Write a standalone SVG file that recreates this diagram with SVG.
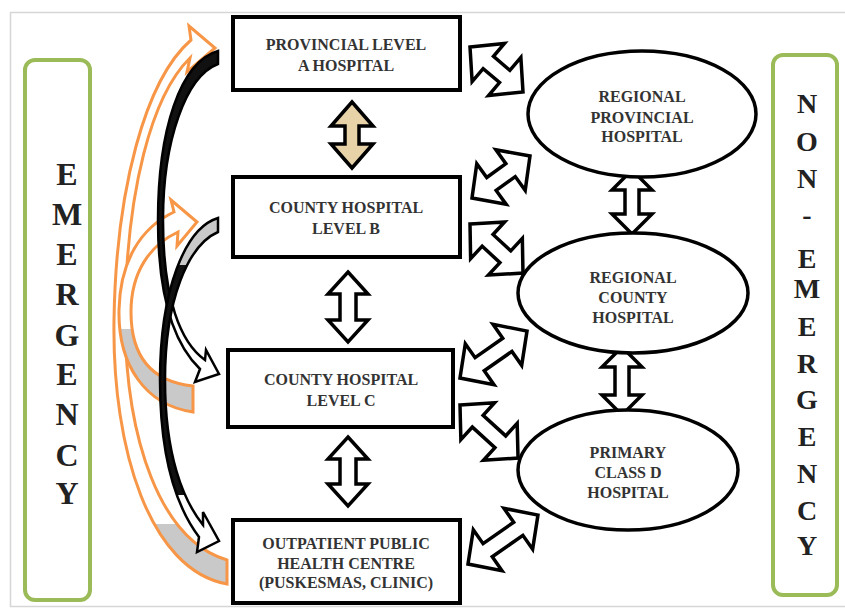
<svg xmlns="http://www.w3.org/2000/svg" width="845" height="609" viewBox="0 0 845 609">
<style>
.box{fill:#fff;stroke:#000;stroke-width:4}
.ell{fill:#fff;stroke:#000;stroke-width:3.5}
.lbl{font-family:"Liberation Serif","Times New Roman",serif;font-weight:bold;font-size:16px;fill:#333;text-anchor:middle}
.big{font-family:"Liberation Serif","Times New Roman",serif;font-weight:bold;fill:#222;text-anchor:middle}
.side{fill:#fff;stroke:#9BBB59;stroke-width:4}
.da{fill:#fff;stroke:#000;stroke-width:3.5;stroke-linejoin:miter}
.org{stroke:#F79646;stroke-width:3;stroke-linejoin:miter}
.blk{stroke:#000;stroke-width:2.5;stroke-linejoin:miter}
</style>
<defs>
<linearGradient id="gO1" gradientUnits="userSpaceOnUse" x1="0" y1="0" x2="0" y2="609">
<stop offset="0" stop-color="#fff"/><stop offset="0.86" stop-color="#fff"/><stop offset="0.86" stop-color="#C9C9C9"/><stop offset="1" stop-color="#C9C9C9"/>
</linearGradient>
<linearGradient id="gO2" gradientUnits="userSpaceOnUse" x1="0" y1="0" x2="0" y2="609">
<stop offset="0" stop-color="#fff"/><stop offset="0.54" stop-color="#fff"/><stop offset="0.54" stop-color="#C9C9C9"/><stop offset="1" stop-color="#C9C9C9"/>
</linearGradient>
<linearGradient id="gB1" gradientUnits="userSpaceOnUse" x1="0" y1="0" x2="0" y2="609">
<stop offset="0" stop-color="#111"/><stop offset="0.5" stop-color="#111"/><stop offset="0.5" stop-color="#fff"/><stop offset="1" stop-color="#fff"/>
</linearGradient>
<linearGradient id="gB2" gradientUnits="userSpaceOnUse" x1="0" y1="0" x2="0" y2="609">
<stop offset="0" stop-color="#C9C9C9"/><stop offset="0.435" stop-color="#C9C9C9"/><stop offset="0.435" stop-color="#111"/><stop offset="0.813" stop-color="#111"/><stop offset="0.813" stop-color="#fff"/><stop offset="1" stop-color="#fff"/>
</linearGradient>
</defs>
<rect x="0" y="0" width="845" height="609" fill="#fff"/>
<rect x="10.5" y="12.5" width="840" height="594" fill="#fff" stroke="#d6d6d6" stroke-width="1.5"/>

<g id="emergency">
<rect class="side" x="25" y="60" width="65" height="540" rx="10"/>
<g class="big" font-size="32">
<text x="67" y="185">E</text><text x="67" y="225">M</text><text x="67" y="265">E</text><text x="67" y="305">R</text><text x="67" y="346">G</text><text x="67" y="385">E</text><text x="67" y="425">N</text><text x="67" y="466">C</text><text x="67" y="504">Y</text>
</g>
</g>

<g id="non-emergency">
<rect class="side" x="773" y="55" width="64" height="540" rx="10"/>
<g class="big" font-size="28">
<text x="807" y="113">N</text><text x="807" y="151">O</text><text x="807" y="188">N</text><text x="807" y="224">-</text><text x="807" y="268">E</text><text x="807" y="298">M</text><text x="807" y="336">E</text><text x="807" y="373">R</text><text x="807" y="409">G</text><text x="807" y="446">E</text><text x="807" y="483">N</text><text x="807" y="520">C</text><text x="807" y="555">Y</text>
</g>
</g>

<g id="connectors">
<path class="org" fill="url(#gO1)" d="M227,584 C150,570 112,450 114,320 C116,190 145,80 191,40 L189,26 L215,48 L187,72 L190,58 C152,95 126,190 125,320 C126,440 160,540 227,560 Z"/>
<path class="org" fill="url(#gO2)" d="M193,412 C145,405 118,365 119,310 C120,262 140,228 174,212 L171,200 L197,222 L177,246 L178,232 C150,245 131,272 131,312 C131,360 155,382 193,386 Z"/>
<path class="blk" fill="url(#gB1)" d="M218,51 C180,62 158,130 158,220 C158,300 175,345 200,369 L195,382 L219,374 L206,350 L205,360 C181,343 163,300 163,220 C163,140 186,76 218,64 Z"/>
<path class="blk" fill="url(#gB2)" d="M218,218 C185,228 160,290 160,380 C160,455 175,505 199,537 L197,552 L219,541 L203,512 L203,525 C183,500 165,455 165,380 C165,300 188,245 218,232 Z"/>
<polygon class="da" style="fill:#E8D3A8" points="352,102 373,126 359,126 359,144 373,144 352,168 331,144 345,144 345,126 331,126"/>
<polygon class="da" points="348,272 368,294 356,294 356,320 368,320 348,342 328,320 340,320 340,294 328,294"/>
<polygon class="da" points="348,437 368,459 356,459 356,484 368,484 348,506 328,484 340,484 340,459 328,459"/>
<polygon class="da" points="632,170 652,190 639,190 639,214 652,214 632,234 612,214 625,214 625,190 612,190"/>
<polygon class="da" points="622,347 642,367 629,367 629,395 642,395 622,415 602,395 615,395 615,367 602,367"/>
<polygon class="da" transform="translate(470,47) rotate(40.3)" points="0,0 24,-25 24,-8 45.5,-8 45.5,-25 69.5,0 45.5,25 45.5,8 24,8 24,25"/>
<polygon class="da" transform="translate(472,198) rotate(-35.9)" points="0,0 24,-25 24,-8 47.6,-8 47.6,-25 71.6,0 47.6,25 47.6,8 24,8 24,25"/>
<polygon class="da" transform="translate(470,224) rotate(42.8)" points="0,0 24,-25 24,-8 48.2,-8 48.2,-25 72.2,0 48.2,25 48.2,8 24,8 24,25"/>
<polygon class="da" transform="translate(460,378) rotate(-35)" points="0,0 24,-25 24,-8 57.8,-8 57.8,-25 81.8,0 57.8,25 57.8,8 24,8 24,25"/>
<polygon class="da" transform="translate(460,405) rotate(42.4)" points="0,0 24,-25 24,-8 54.6,-8 54.6,-25 78.6,0 54.6,25 54.6,8 24,8 24,25"/>
<polygon class="da" transform="translate(468,564) rotate(-35)" points="0,0 24,-25 24,-8 61.4,-8 61.4,-25 85.4,0 61.4,25 61.4,8 24,8 24,25"/>
</g>

<g id="provincial-a">
<rect class="box" x="233" y="17" width="227" height="73"/>
<text class="lbl" x="346" y="50">PROVINCIAL LEVEL</text>
<text class="lbl" x="346" y="71">A HOSPITAL</text>
</g>
<g id="county-b">
<rect class="box" x="233" y="177" width="227" height="80"/>
<text class="lbl" x="346" y="213">COUNTY HOSPITAL</text>
<text class="lbl" x="346" y="234">LEVEL B</text>
</g>
<g id="county-c">
<rect class="box" x="228" y="350" width="225" height="77"/>
<text class="lbl" x="341" y="385">COUNTY HOSPITAL</text>
<text class="lbl" x="341" y="406">LEVEL C</text>
</g>
<g id="outpatient">
<rect class="box" x="233" y="520" width="227" height="83"/>
<text class="lbl" x="346" y="549">OUTPATIENT PUBLIC</text>
<text class="lbl" x="346" y="569">HEALTH CENTRE</text>
<text class="lbl" x="346" y="588">(PUSKESMAS, CLINIC)</text>
</g>
<g id="regional-provincial">
<ellipse class="ell" cx="642" cy="114" rx="114" ry="63"/>
<text class="lbl" x="642" y="102">REGIONAL</text>
<text class="lbl" x="642" y="123">PROVINCIAL</text>
<text class="lbl" x="642" y="142">HOSPITAL</text>
</g>
<g id="regional-county">
<ellipse class="ell" cx="633" cy="293" rx="115" ry="60"/>
<text class="lbl" x="633" y="283">REGIONAL</text>
<text class="lbl" x="633" y="303">COUNTY</text>
<text class="lbl" x="633" y="323">HOSPITAL</text>
</g>
<g id="primary-d">
<ellipse class="ell" cx="628" cy="470" rx="110" ry="60"/>
<text class="lbl" x="628" y="458">PRIMARY</text>
<text class="lbl" x="628" y="478">CLASS D</text>
<text class="lbl" x="628" y="498">HOSPITAL</text>
</g>
</svg>
